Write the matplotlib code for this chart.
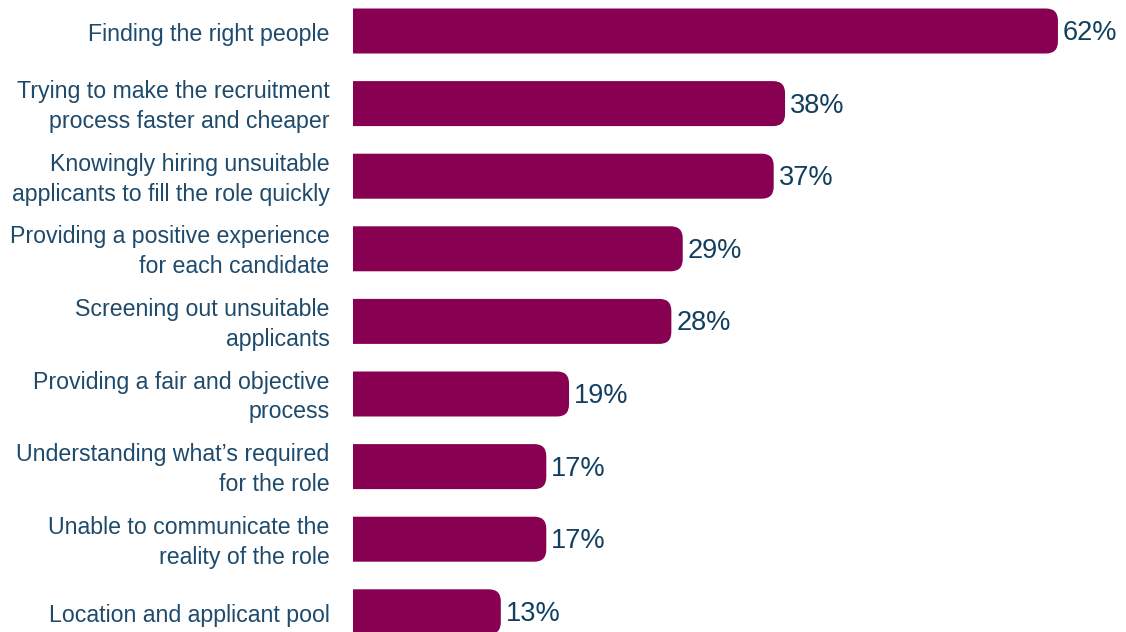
import matplotlib
matplotlib.use("Agg")
import matplotlib.pyplot as plt
import matplotlib.transforms as mtransforms
from matplotlib.patches import FancyBboxPatch

categories = [
    "Finding the right people",
    "Trying to make the recruitment\nprocess faster and cheaper",
    "Knowingly hiring unsuitable\napplicants to fill the role quickly",
    "Providing a positive experience\nfor each candidate",
    "Screening out unsuitable\napplicants",
    "Providing a fair and objective\nprocess",
    "Understanding what\u2019s required\nfor the role",
    "Unable to communicate the\nreality of the role",
    "Location and applicant pool",
]
values = [62, 38, 37, 29, 28, 19, 17, 17, 13]
value_labels = [f"{v}%" for v in values]

BAR = "#870052"
TXT = "#1e4a6c"
VAL = "#123f60"

W, H, DPI = 1126, 632, 100
fig = plt.figure(figsize=(W / DPI, H / DPI), dpi=DPI)
x0 = 353
ax = fig.add_axes([x0 / W, 0, 1 - x0 / W, 1])

px_per_x = 11.37
px_per_y = 72.6
top_c = 31
ax.set_xlim(0, (W - x0) / px_per_x)
ax.set_ylim((H - top_c) / px_per_y, -top_c / px_per_y)

bh = 45 / px_per_y
r_px = 12
r = r_px / px_per_x
aspect = (1 / px_per_y) / (1 / px_per_x)

ypos = list(range(len(values)))
for y, v, lab in zip(ypos, values, value_labels):
    # start left of the axes so the left rounded corners are clipped away
    p = FancyBboxPatch((-3 * r, y - bh / 2), v + 3 * r, bh,
                       boxstyle=f"round,pad=0,rounding_size={r}",
                       mutation_aspect=aspect, facecolor=BAR, edgecolor="none",
                       clip_on=True)
    ax.add_patch(p)
    ax.text(v + 5 / px_per_x, y + 2 / px_per_y, lab, va="center", ha="left",
            fontsize=19.5, color=VAL, family="Liberation Sans")

ax.set_yticks(ypos)
ax.set_yticklabels(categories, fontsize=16.7, color=TXT, family="Liberation Sans",
                   linespacing=1.38)
ax.tick_params(axis="y", length=0, pad=17)
for t in ax.get_yticklabels():
    if "\n" in t.get_text():
        t.set_transform(t.get_transform() +
                        mtransforms.ScaledTranslation(0, 3 / DPI, fig.dpi_scale_trans))
    else:
        t.set_transform(t.get_transform() +
                        mtransforms.ScaledTranslation(0, -1 / DPI, fig.dpi_scale_trans))
ax.set_xticks([])
for s in ax.spines.values():
    s.set_visible(False)

fig.savefig("out.png", dpi=DPI)
